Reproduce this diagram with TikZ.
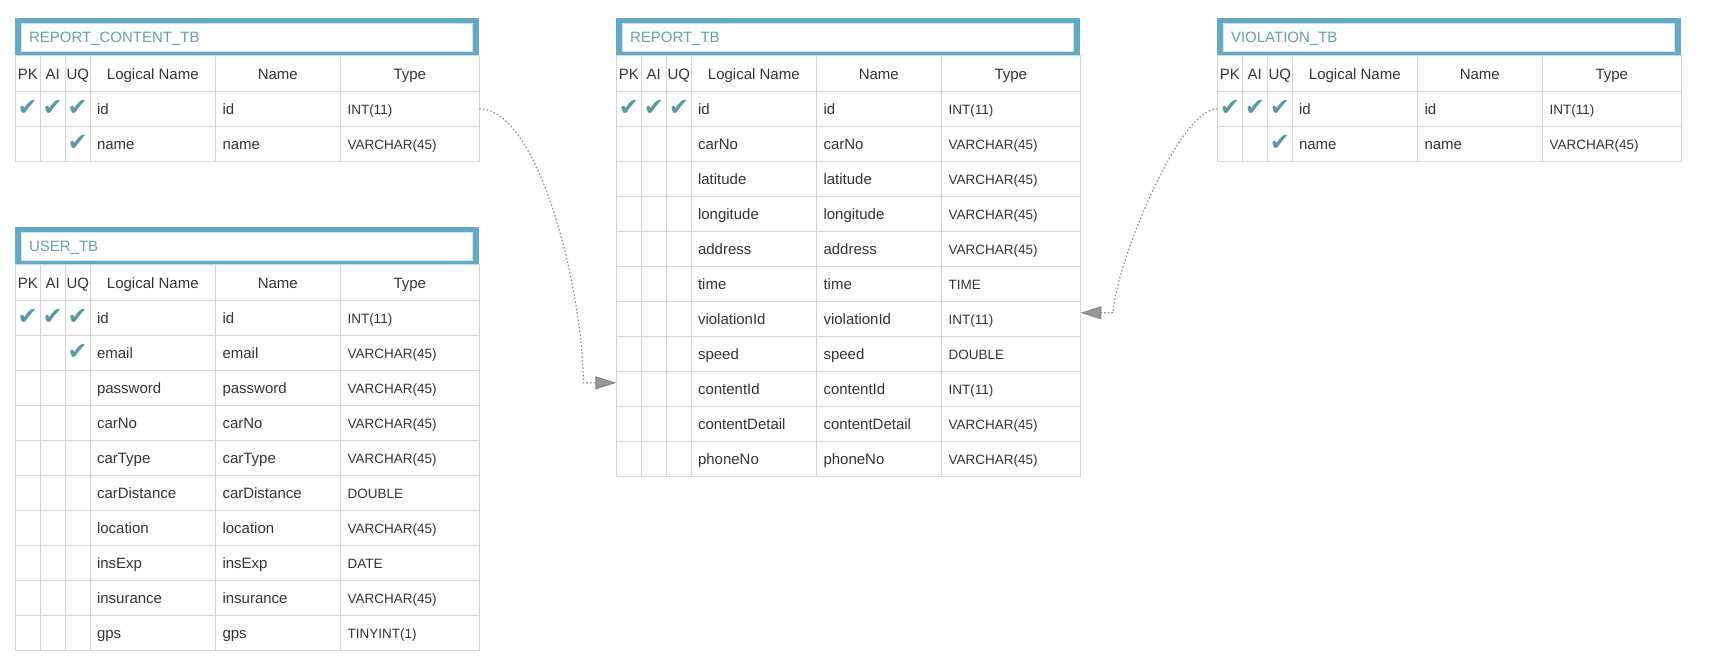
\documentclass[tikz,border=0pt]{standalone}
\usepackage{fontspec}
\setmainfont{Liberation Sans}
\newfontfamily\tickfont{DejaVu Sans}
\usetikzlibrary{arrows.meta}
\definecolor{framecol}{HTML}{62AAC6}
\definecolor{titlecol}{HTML}{6A9EA8}
\definecolor{checkcol}{HTML}{5B98A3}
\definecolor{gridcol}{HTML}{D4D4D4}
\definecolor{textcol}{HTML}{333333}
\definecolor{linkcol}{HTML}{8A8A8A}
\definecolor{arrowcol}{HTML}{999999}

\newcommand{\dbtable}[4]{%
\begin{scope}[shift={#2}]
  \fill[framecol] (0,0) rectangle (464,37.5);
  \filldraw[fill=white, draw=framecol!30] (6,5) rectangle (457,32.5);
  \node[tbtitle] (#1-title) at (13.5,24) {#3};
  \draw[gridline] (0,37.5) rectangle (464,73);
  \foreach \vx in {25,50,75,200,325} \draw[gridline] (\vx,37.5) -- (\vx,73);
  \foreach \cx/\lab/\hn in {12.5/PK/pk,37.5/AI/ai,62.5/UQ/uq,137.5/Logical Name/lname,262.5/Name/name,394.5/Type/type}
    \node[colhead] (#1-h\hn) at (\cx,60.8) {\lab};
  \foreach \fpk/\fai/\fuq/\fld/\ftype [count=\i] in {#4} {
    \pgfmathsetmacro\ry{73+35*(\i-1)}
    \node[rowbox] (#1-\fld) at (0,\ry) {};
    \foreach \vx in {25,50,75,200,325} \draw[gridline] (\vx,\ry) -- (\vx,\ry+35);
    \ifnum\fpk=1 \node[tick] (#1-\fld-pk) at (12.5,\ry+16.5) {✔};\fi
    \ifnum\fai=1 \node[tick] (#1-\fld-ai) at (37.5,\ry+16.5) {✔};\fi
    \ifnum\fuq=1 \node[tick] (#1-\fld-uq) at (62.5,\ry+16.5) {✔};\fi
    \node[cell] (#1-\fld-lname) at (81.5,\ry+22.8) {\fld};
    \node[cell] (#1-\fld-name) at (207,\ry+22.8) {\fld};
    \node[typecell] (#1-\fld-type) at (332,\ry+22.8) {\ftype};
  }
\end{scope}}

\begin{document}
\begin{tikzpicture}[x=1pt,y=-1pt]
  \tikzset{gridline/.style={draw=gridcol, line width=1pt},
    rowbox/.style={gridline, anchor=north west, minimum width=464pt, minimum height=35pt, inner sep=0pt, outer sep=0pt},
    cell/.style={anchor=base west, inner sep=0pt, text=textcol, font=\fontsize{15}{18}\selectfont},
    typecell/.style={cell, font=\fontsize{13.5}{16}\selectfont},
    colhead/.style={anchor=base, inner sep=0pt, text=textcol, font=\fontsize{15}{18}\selectfont},
    tbtitle/.style={anchor=base west, inner sep=0pt, text=titlecol, font=\fontsize{15}{18}\selectfont},
    tick/.style={inner sep=0pt, text=checkcol, font=\tickfont\bfseries\fontsize{24}{24}\selectfont},
    link/.style={draw=linkcol, line width=1.2pt, dash pattern=on 1.5pt off 2.2pt, -{Triangle[length=21pt,width=13pt,fill=arrowcol]}}}
  \useasboundingbox (0,0) rectangle (1713,671);

  \dbtable{rc}{(15.3,18.3)}{REPORT\_CONTENT\_TB}{1/1/1/id/INT(11), 0/0/1/name/VARCHAR(45)}
  \dbtable{us}{(15.3,227.3)}{USER\_TB}{1/1/1/id/INT(11), 0/0/1/email/VARCHAR(45), 0/0/0/password/VARCHAR(45),
    0/0/0/carNo/VARCHAR(45), 0/0/0/carType/VARCHAR(45), 0/0/0/carDistance/DOUBLE, 0/0/0/location/VARCHAR(45),
    0/0/0/insExp/DATE, 0/0/0/insurance/VARCHAR(45), 0/0/0/gps/TINYINT(1)}
  \dbtable{rp}{(616.3,18.3)}{REPORT\_TB}{1/1/1/id/INT(11), 0/0/0/carNo/VARCHAR(45), 0/0/0/latitude/VARCHAR(45),
    0/0/0/longitude/VARCHAR(45), 0/0/0/address/VARCHAR(45), 0/0/0/time/TIME, 0/0/0/violationId/INT(11),
    0/0/0/speed/DOUBLE, 0/0/0/contentId/INT(11), 0/0/0/contentDetail/VARCHAR(45), 0/0/0/phoneNo/VARCHAR(45)}
  \dbtable{vi}{(1217.3,18.3)}{VIOLATION\_TB}{1/1/1/id/INT(11), 0/0/1/name/VARCHAR(45)}

  \coordinate (bend1) at ([xshift=-33pt,yshift=6pt]rp-contentId.west);
  \coordinate (bend2) at ([xshift=33pt,yshift=6pt]rp-violationId.east);
  \draw[link] (rc-id.east) .. controls +(60,0) and +(0,-90) .. (bend1) -- ([yshift=6pt]rp-contentId.west);
  \draw[link] (vi-id.west) .. controls +(-40,0) and +(0,-40) .. (bend2) -- ([yshift=6pt]rp-violationId.east);
\end{tikzpicture}
\end{document}
